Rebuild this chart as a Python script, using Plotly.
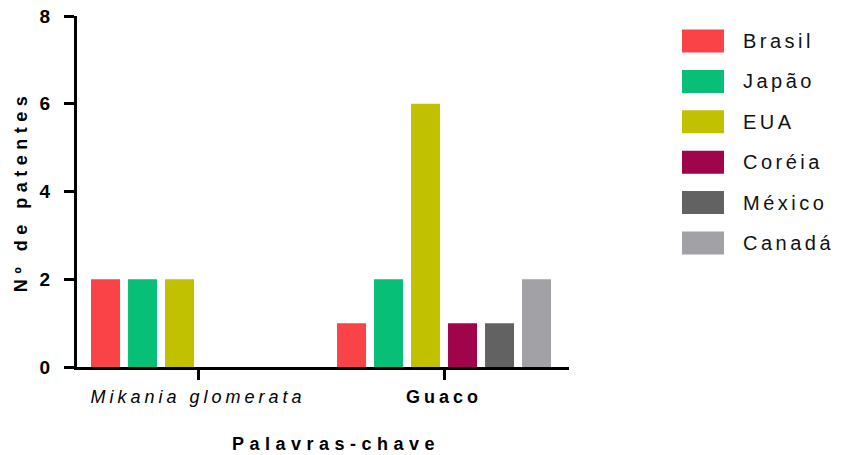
import plotly.graph_objects as go

categories = ["Mikania glomerata", "Guaco"]
tick_labels = ["<i>Mikania glomerata</i>", "<b>Guaco</b>"]
series_names = ["Brasil", "Japão", "EUA", "Coréia", "México", "Canadá"]
brasil = [2, 1]
japao = [2, 2]
eua = [2, 6]
coreia = [0, 1]
mexico = [0, 1]
canada = [0, 2]
series_values = [brasil, japao, eua, coreia, mexico, canada]
colors = ["#F94346", "#08BF78", "#C2C101", "#A0044B", "#626262", "#A2A1A5"]
y_ticks = [0, 2, 4, 6, 8]
x_title = "Palavras-chave"
y_title = "Nº de patentes"

FONT = "Liberation Sans, Arial, sans-serif"


def spaced(text, px):
    return f"<span style='letter-spacing:{px}px'>{text}</span>"


fig = go.Figure()
for name, vals, col in zip(series_names, series_values, colors):
    fig.add_trace(go.Bar(
        x=list(range(len(categories))), y=vals, name=name,
        marker=dict(color=col, line=dict(width=0)),
        showlegend=False, hoverinfo="x+y+name",
    ))

# plot-area geometry (pixels) used for the custom legend
L, R, T, B = 77, 273, 16, 88
W, H = 842, 455
pw, ph = W - L - R, H - T - B

shapes = []
annotations = []
for i, (name, col) in enumerate(zip(series_names, colors)):
    cy = 41 + 40.4 * i
    y0 = (H - B - (cy + 11.5)) / ph
    y1 = (H - B - (cy - 11.5)) / ph
    shapes.append(dict(type="rect", xref="paper", yref="paper",
                       x0=(682 - L) / pw, x1=(724 - L) / pw, y0=y0, y1=y1,
                       fillcolor=col, line=dict(width=0)))
    annotations.append(dict(xref="paper", yref="paper", x=(741 - L) / pw,
                            y=(H - B - cy) / ph, xanchor="left", yanchor="middle",
                            text=spaced(name, 3.5), showarrow=False,
                            font=dict(family=FONT, size=20, color="#111111")))

# x-axis title (slightly right of centre, as in the original)
annotations.append(dict(xref="paper", yref="paper", x=(336 - L) / pw,
                        y=(H - B - 444) / ph, xanchor="center", yanchor="middle",
                        text=spaced(f"<b>{x_title}</b>", 5.5), showarrow=False,
                        font=dict(family=FONT, size=18, color="black")))

fig.update_layout(
    width=W, height=H,
    margin=dict(l=L, r=R, t=T, b=B, pad=0, autoexpand=False),
    paper_bgcolor="white", plot_bgcolor="white",
    barmode="group", bargap=0.0976, bargroupgap=0.216,
    font=dict(family=FONT, color="black"),
    shapes=shapes, annotations=annotations,
    xaxis=dict(
        range=[-0.492, 1.508], tickmode="array", automargin=False,
        tickvals=list(range(len(categories))),
        ticktext=[spaced(t, 4) for t in tick_labels],
        showline=True, linewidth=3, linecolor="black",
        ticks="outside", ticklen=10, tickwidth=3, tickcolor="black",
        tickfont=dict(family=FONT, size=18, color="black"),
        ticklabelstandoff=1,
        showgrid=False, zeroline=False,
    ),
    yaxis=dict(
        range=[0, 8], tickmode="array", tickvals=y_ticks, automargin=False,
        ticktext=[f"<b>{v}</b>" for v in y_ticks],
        showline=True, linewidth=3, linecolor="black",
        ticks="outside", ticklen=10, tickwidth=3, tickcolor="black",
        tickfont=dict(family=FONT, size=19, color="black"),
        ticklabelstandoff=10,
        showgrid=False, zeroline=False,
        title=dict(text=spaced(f"<b>{y_title}</b>", 5.5),
                   font=dict(family=FONT, size=18, color="black"), standoff=8),
    ),
)

fig.write_html("out.html", config={"displayModeBar": False},
               post_script="document.body.style.margin='0';document.body.style.overflow='hidden';")
